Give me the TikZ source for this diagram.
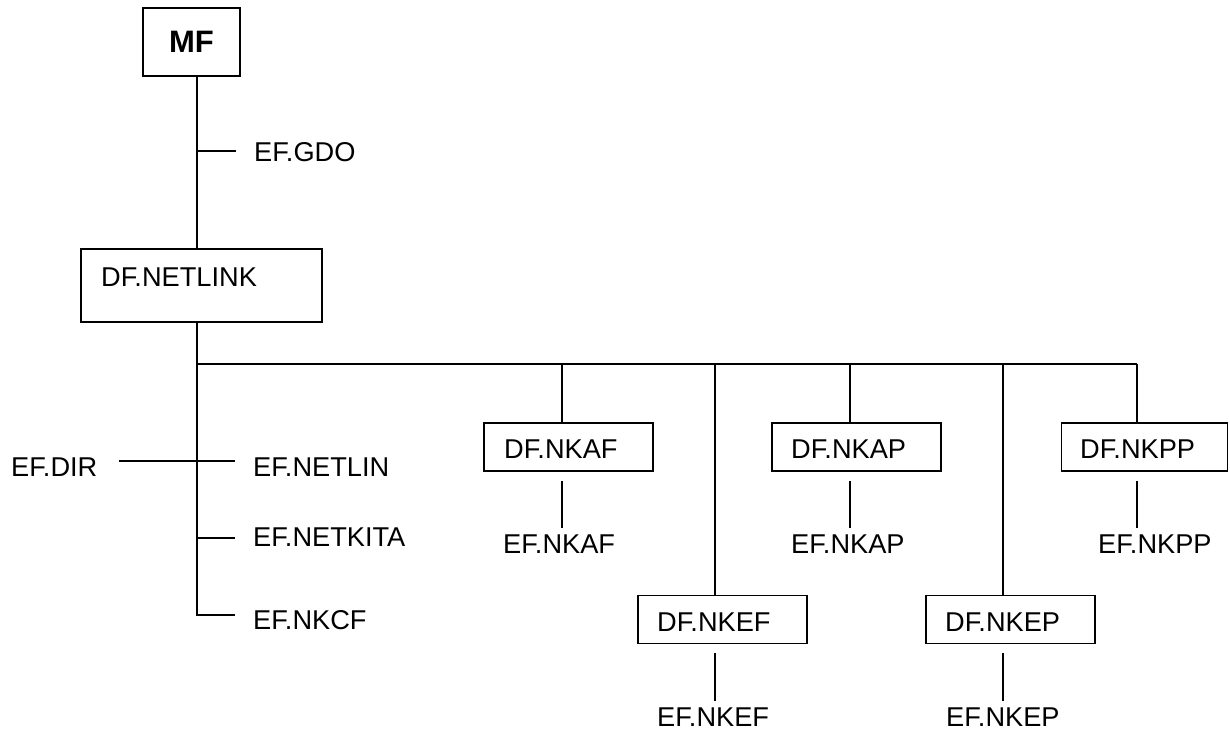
\documentclass[tikz,border=0pt]{standalone}
\usepackage{fontspec}
\setmainfont{Liberation Sans}
\usetikzlibrary{calc}
\begin{document}
\begin{tikzpicture}[x=1pt,y=-1pt,
  lbl/.style={anchor=base west,inner sep=0pt,font=\fontsize{27.2}{31}\selectfont},
  bigbox/.style={draw,line width=2.3pt,inner sep=0pt},
  smallbox/.style={draw,line width=1.8pt,inner sep=0pt,minimum width=169pt,minimum height=48pt},
  main/.style={line width=2.3pt},
  thin/.style={line width=1.8pt}]
\useasboundingbox (0,0) rectangle (1230,731);
% boxes
\node[bigbox,minimum width=97pt,minimum height=68pt,font=\fontsize{31}{36}\selectfont\bfseries] (mf) at (191.5,42) {MF};
\node[bigbox,minimum width=241pt,minimum height=73pt] (netlink) at (201.5,285.5) {};
\node[lbl] (netlinkt) at (101,286) {DF.NETLINK};
\node[smallbox] (nkaf) at (568.5,447) {};
\node[smallbox] (nkap) at (856.5,447) {};
\node[smallbox,minimum width=166pt] (nkpp) at (1144.5,447) {};
\node[smallbox] (nkef) at (722.5,619.5) {};
\node[smallbox] (nkep) at (1010.5,619.5) {};
% labels
\node[lbl] (gdo) at (254,161) {EF.GDO};
\node[lbl] (dir) at (11,476) {EF.DIR};
\node[lbl] (netlin) at (253,476) {EF.NETLIN};
\node[lbl] (netkita) at (253,546) {EF.NETKITA};
\node[lbl] (nkcf) at (253,629) {EF.NKCF};
\node[lbl] (dnkaf) at (504,458) {DF.NKAF};
\node[lbl] (enkaf) at (503,553) {EF.NKAF};
\node[lbl] (dnkap) at (791,458) {DF.NKAP};
\node[lbl] (enkap) at (791,553) {EF.NKAP};
\node[lbl] (dnkpp) at (1080,458) {DF.NKPP};
\node[lbl] (enkpp) at (1098,553) {EF.NKPP};
\node[lbl] (dnkef) at (657,631) {DF.NKEF};
\node[lbl] (enkef) at (657,726) {EF.NKEF};
\node[lbl] (dnkep) at (945,631) {DF.NKEP};
\node[lbl] (enkep) at (946,726) {EF.NKEP};
% junction coordinates
\coordinate (t) at (197,0);
\coordinate (jgdo) at (197,151);
\coordinate (bus) at (197,364);
\coordinate (jdir) at (197,461);
\coordinate (jkita) at (197,538);
\coordinate (jcf) at (197,615);
\coordinate (jaf) at (562,364);
\coordinate (jef) at (715,364);
\coordinate (jap) at (850,364);
\coordinate (jep) at (1003,364);
\coordinate (jpp) at (1137,364);
% trunk
\draw[main] (mf.south -| t) -- (netlink.north -| t);
\draw[thin] (jgdo) -- ($(jgdo -| gdo.west)+(-18,0)$);
\draw[main] (netlink.south -| t) -- (jcf) -- ($(jcf -| nkcf.west)+(-18,0)$);
\draw[thin] (jkita) -- ($(jkita -| netkita.west)+(-18,0)$);
\draw[thin] ($(jdir -| dir.east)+(21,0)$) -- ($(jdir -| netlin.west)+(-18,0)$);
\draw[thin] (bus) -- (jpp);
% branches
\draw[thin] (jaf) -- (jaf |- nkaf.north);
\draw[thin] (jap) -- (jap |- nkap.north);
\draw[thin] (jpp) -- (jpp |- nkpp.north);
\draw[thin] (jef) -- (jef |- nkef.north);
\draw[thin] (jep) -- (jep |- nkep.north);
\draw[thin] ($(jaf |- nkaf.south)+(0,9)$) -- ($(jaf |- enkaf.north)+(0,-6)$);
\draw[thin] ($(jap |- nkap.south)+(0,9)$) -- ($(jap |- enkap.north)+(0,-6)$);
\draw[thin] ($(jpp |- nkpp.south)+(0,9)$) -- ($(jpp |- enkpp.north)+(0,-6)$);
\draw[thin] ($(jef |- nkef.south)+(0,9)$) -- ($(jef |- enkef.north)+(0,-6)$);
\draw[thin] ($(jep |- nkep.south)+(0,9)$) -- ($(jep |- enkep.north)+(0,-6)$);
\end{tikzpicture}
\end{document}
